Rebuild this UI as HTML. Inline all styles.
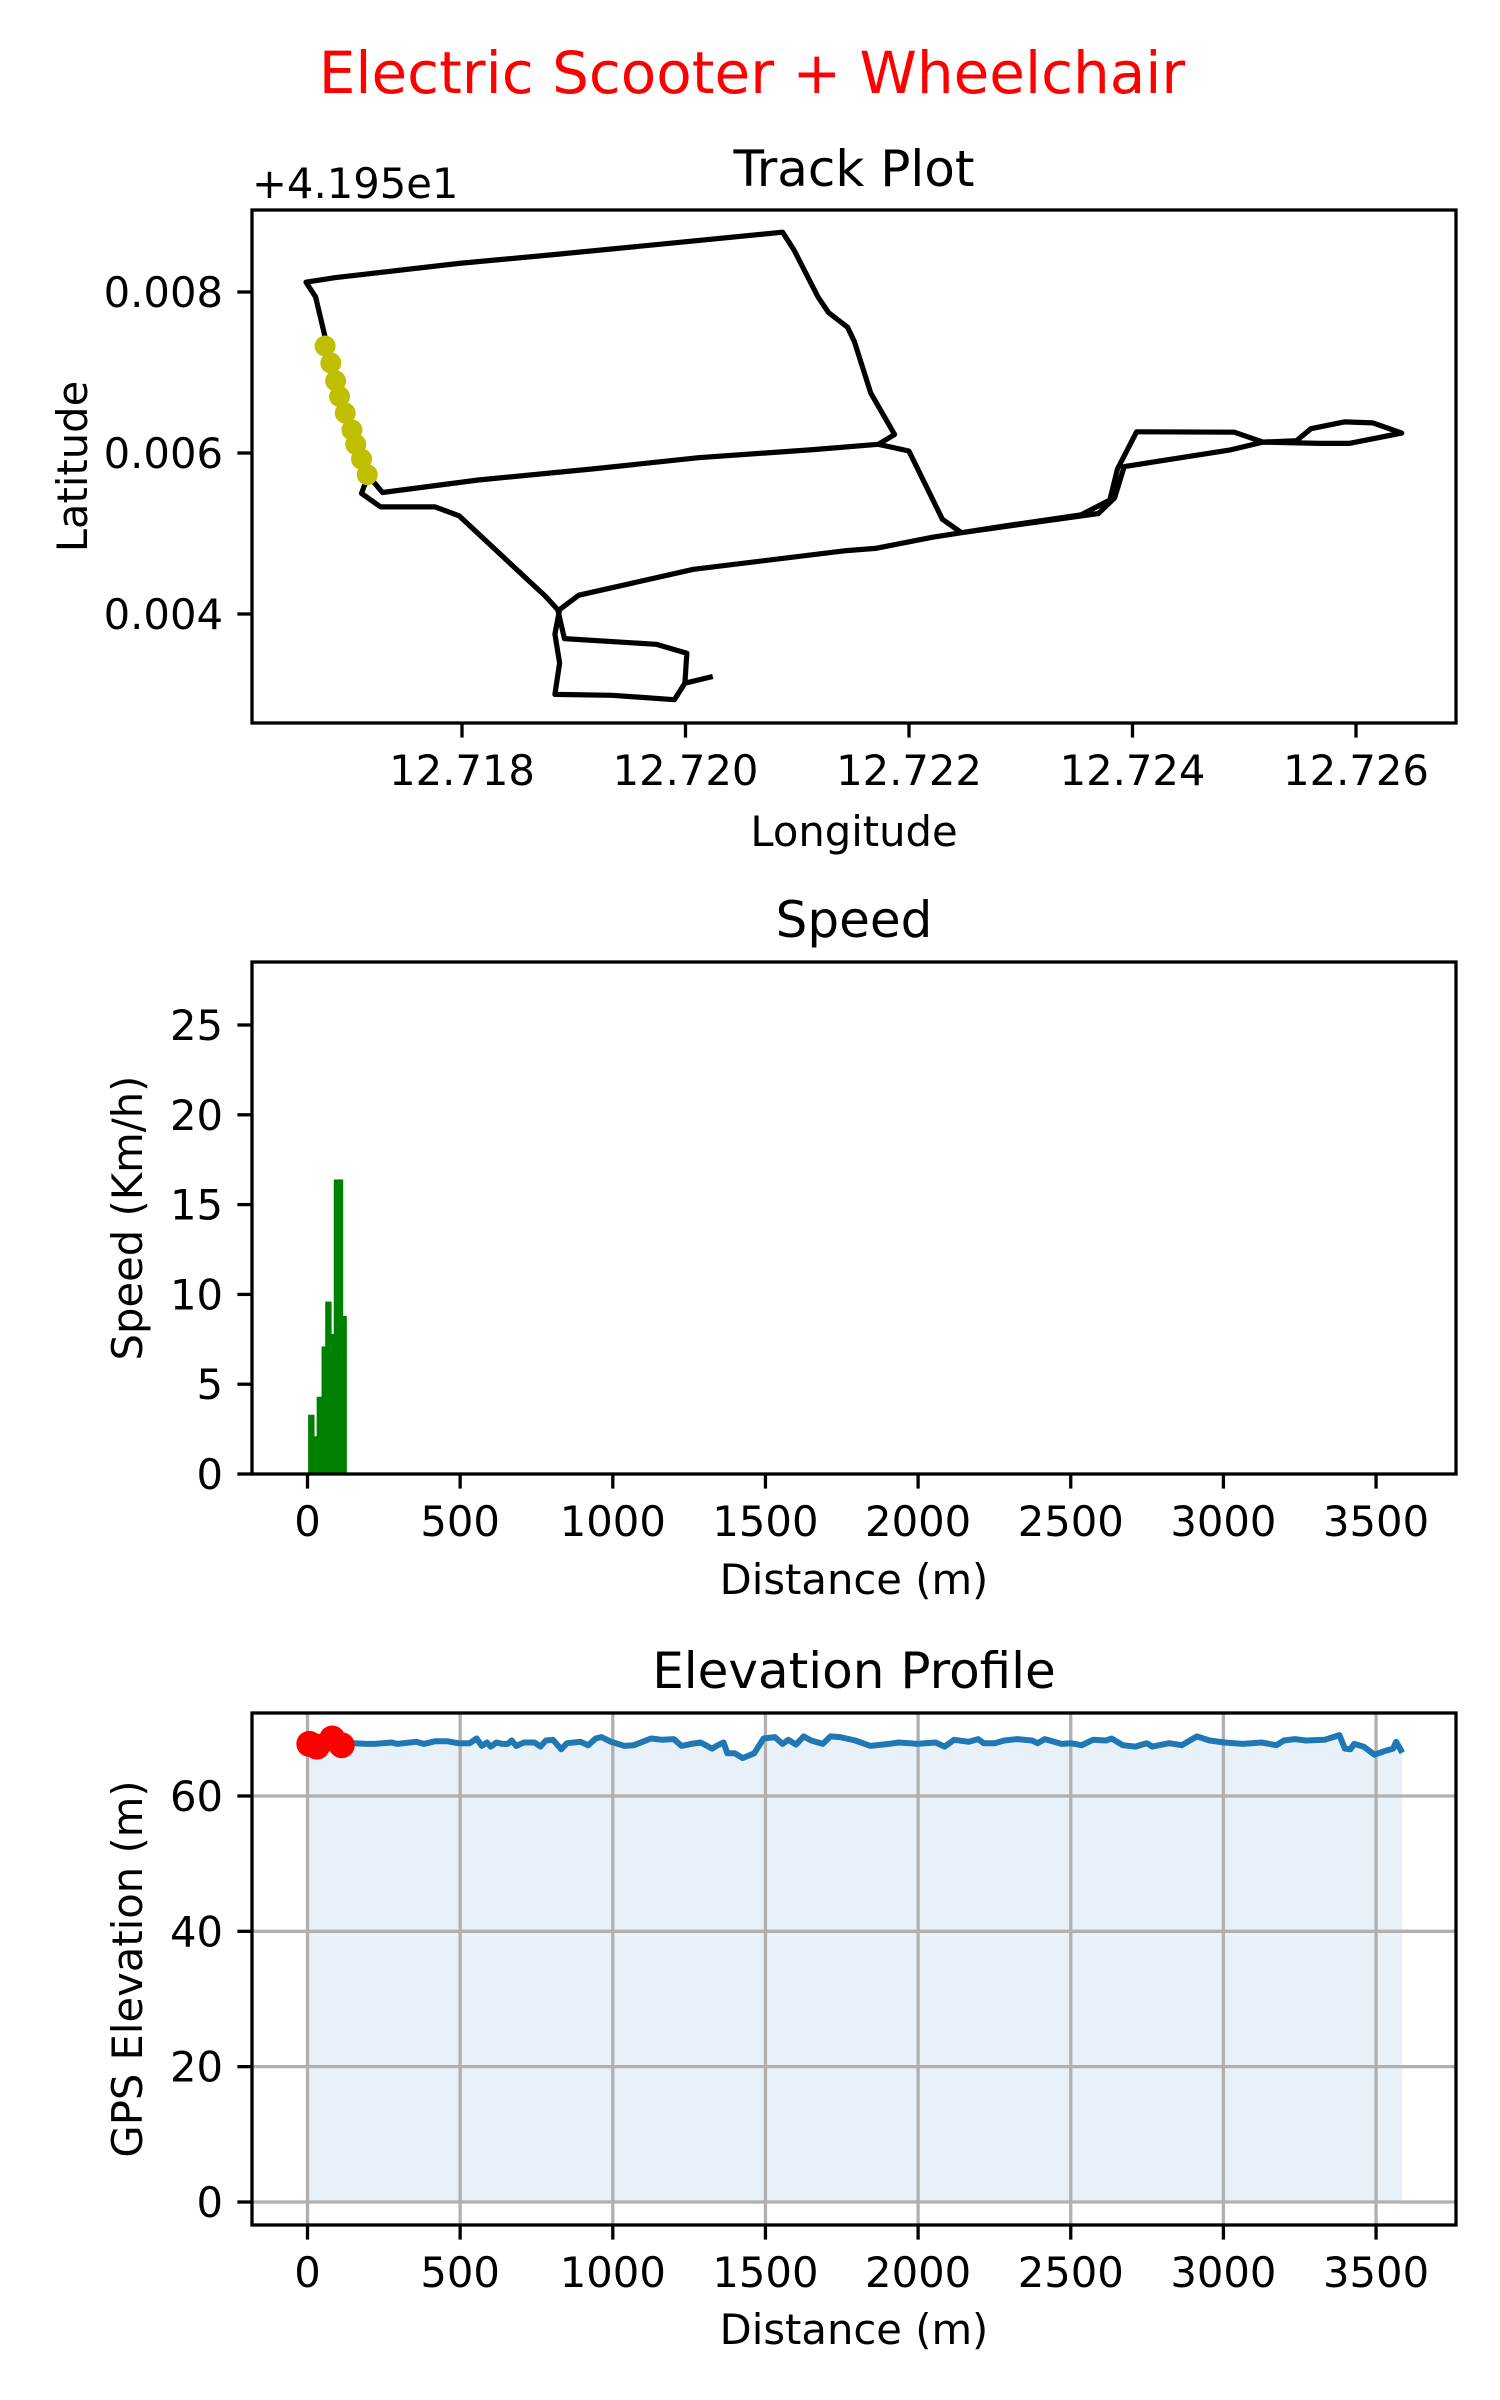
<!DOCTYPE html>
<html><head><meta charset="utf-8"><style>
body{margin:0;background:#fff}
svg{display:block;font-family:"DejaVu Sans","Liberation Sans",sans-serif}
</style></head><body>
<svg id="fig" width="1500" height="2400" viewBox="0 0 1500 2400" xmlns="http://www.w3.org/2000/svg">
<rect width="1500" height="2400" fill="#fff"/>
<text x="752" y="93" font-size="58" fill="#ff0000" text-anchor="middle">Electric Scooter + Wheelchair</text>
<g id="track"></g>
<g id="speed"></g>
<g id="elev"></g>
</svg>
<script>
// ---- Track data (lat offset from 41.95) ----
const trackLon = [12.716775,12.717161,12.717289,12.718146,12.719173,12.720115,12.721143,12.721725,12.721871,12.721657,12.721511,12.721451,12.721280,12.721186,12.720971,12.720869,12.719858,12.718831,12.717974,12.716861,12.716604,12.716690,12.716775,null,
12.717161,12.717101,12.717272,12.717760,12.717974,12.718531,12.718745,12.718856,12.718916,12.719738,12.720012,12.719995,12.719901,12.719344,12.718831,12.718873,12.718831,12.718873,12.719045,12.720072,12.721442,12.721699,12.722213,12.722770,12.723540,12.723797,12.723866,12.724037,12.724911,12.725168,12.725467,12.725596,12.725895,12.726152,12.726409,12.725938,12.725681,12.725168,12.724868,12.723926,12.723840,12.723695,12.722470,12.722299,12.721999,12.721725,null,
12.719995,12.720244];
const trackLat = [0.007329,0.005720,0.005509,0.005664,0.005803,0.005942,0.006042,0.006108,0.006230,0.006746,0.007384,0.007562,0.007745,0.007939,0.008522,0.008743,0.008605,0.008466,0.008355,0.008178,0.008122,0.007939,0.007440,null,
0.005720,0.005498,0.005331,0.005331,0.005220,0.004499,0.004222,0.004055,0.003695,0.003623,0.003512,0.003140,0.002935,0.002990,0.003001,0.003390,0.003750,0.004055,0.004233,0.004555,0.004788,0.004815,0.004954,0.005076,0.005232,0.005415,0.005803,0.006263,0.006258,0.006136,0.006153,0.006302,0.006386,0.006374,0.006247,0.006119,0.006119,0.006136,0.006036,0.005831,0.005442,0.005248,0.005010,0.005176,0.006025,0.006108,null,
0.003140,0.003223];
const markLon = [12.716775,12.716826,12.716869,12.716904,12.716955,12.717015,12.717049,12.717101,12.717152];
const markLat = [0.007329,0.007118,0.006896,0.006702,0.006497,0.006286,0.006108,0.005925,0.005731];
const lonTicks = ["12.718","12.720","12.722","12.724","12.726"];
const latTicks = ["0.004","0.006","0.008"];
// ---- Speed data ----
const speedEdges = [2,21,30,46,58,77,86,115,127];
const speedVals = [3.3,2.1,4.3,7.1,9.6,7.8,16.4,8.8];
const speedTicks = [0,5,10,15,20,25];
const distTicks = [0,500,1000,1500,2000,2500,3000,3500];
// ---- Elevation data ----
const elevDist = [6,31,81,112,150,194,219,275,294,356,381,419,456,494,531,554,571,588,600,619,638,656,669,684,709,744,763,781,804,831,850,894,919,944,963,994,1038,1069,1125,1163,1200,1225,1256,1288,1313,1325,1344,1363,1375,1400,1425,1463,1494,1531,1556,1575,1600,1625,1650,1688,1713,1744,1794,1844,1904,1936,1972,1996,2057,2087,2118,2166,2197,2215,2251,2282,2324,2373,2391,2415,2445,2470,2500,2536,2573,2615,2634,2670,2712,2749,2767,2822,2864,2913,2955,3004,3064,3125,3174,3198,3234,3271,3331,3380,3398,3416,3428,3459,3495,3526,3556,3566,3586];
const elevVals = [67.7,67.3,68.5,67.5,67.8,67.7,67.7,67.9,67.7,68.0,67.7,68.1,68.1,67.8,67.8,68.5,67.4,67.9,67.3,67.9,67.7,67.7,68.2,67.4,67.9,67.9,67.3,68.2,68.3,66.9,67.8,68.0,67.5,68.5,68.7,68.0,67.4,67.5,68.5,68.3,68.4,67.4,67.7,67.9,67.3,67.0,67.5,67.9,66.3,66.3,65.6,66.3,68.5,68.7,67.7,68.3,67.6,68.8,68.2,67.7,68.8,68.7,68.2,67.4,67.7,67.9,67.8,67.7,67.9,67.3,68.3,68.0,68.4,67.8,67.8,68.2,68.4,68.2,67.8,68.4,68.0,67.7,67.8,67.5,68.3,68.2,68.5,67.5,67.3,67.8,67.3,67.8,67.5,68.8,68.2,67.9,67.7,67.9,67.5,68.2,68.4,68.2,68.3,69.0,67.0,66.9,67.7,67.3,66.1,66.6,67.0,68.0,66.4];
const redCount = 4;
const elevTicks = [0,20,40,60];

const NS="http://www.w3.org/2000/svg";
function mk(parent,tag,attrs,text){const e=document.createElementNS(NS,tag);for(const k in attrs)e.setAttribute(k,attrs[k]);if(text!==undefined)e.textContent=text;parent.appendChild(e);return e;}
const TF=41.7, SW=3.3, TL=14.6;

function frame(g,L,R,T,B){
  const f=mk(g,'rect',{x:L,y:T,width:R-L,height:B-T,fill:'none',stroke:'#000','stroke-width':SW});
  
  
}
function xtick(g,x,B,label){
  const t=mk(g,'line',{x1:x,x2:x,y1:B,y2:B+TL,stroke:'#000','stroke-width':SW});
  
  
  const l=mk(g,'text',{x:x,y:B+62,'font-size':TF,'text-anchor':'middle'},label);
  
  
}
function ytick(g,y,L,label){
  const t=mk(g,'line',{x1:L-TL,x2:L,y1:y,y2:y,stroke:'#000','stroke-width':SW});
  
  
  const l=mk(g,'text',{x:L-29,y:y+15,'font-size':TF,'text-anchor':'end'},label);
  
  
}
function title(g,x,y,s){
  const t=mk(g,'text',{x:x,y:y,'font-size':50,'text-anchor':'middle'},s);
  
  
}
function xlabel(g,x,y,s){
  const t=mk(g,'text',{x:x,y:y,'font-size':TF,'text-anchor':'middle'},s);
  
  
}
function ylabel(g,x,y,s){
  const t=mk(g,'text',{x:x,y:y,'font-size':TF,'text-anchor':'middle',transform:`rotate(-90 ${x} ${y})`},s);
  
  
}

// ===== Track plot =====
(function(){
  const g=document.getElementById('track');
  const L=252,R=1456,T=210,B=723;
  const X=v=>462+(v-12.718)*223.5/0.002;
  const Y=v=>292-(v-0.008)*161/0.002;
  let d='',pen=false;
  for(let i=0;i<trackLon.length;i++){
    if(trackLon[i]===null){pen=false;continue;}
    d+=(pen?'L':'M')+X(trackLon[i]).toFixed(1)+' '+Y(trackLat[i]).toFixed(1)+' ';pen=true;
  }
  const p=mk(g,'path',{d:d,fill:'none',stroke:'#000','stroke-width':5.2,'stroke-linejoin':'round'});
  
  
  for(let i=0;i<markLon.length;i++){
    const c=mk(g,'circle',{cx:X(markLon[i]),cy:Y(markLat[i]),r:10.5,fill:'#bfbf00'});
    
    
  }
  frame(g,L,R,T,B);
  lonTicks.forEach(s=>xtick(g,X(parseFloat(s)),B,s));
  latTicks.forEach(s=>ytick(g,Y(parseFloat(s)),L,s));
  title(g,(L+R)/2,186,'Track Plot');
  const o=mk(g,'text',{x:252,y:198,'font-size':TF},'+4.195e1');
  
  
  xlabel(g,(L+R)/2,846,'Longitude');
  ylabel(g,87,(T+B)/2,'Latitude');
})();

// ===== Speed =====
(function(){
  const g=document.getElementById('speed');
  const L=252,R=1456,T=962,B=1474;
  const X=v=>307.5+v*0.3053;
  const Y=v=>B-v*17.96;
  for(let i=0;i<speedVals.length;i++){
    const x0=X(speedEdges[i]),x1=X(speedEdges[i+1]);
    const r=mk(g,'rect',{x:x0,y:Y(speedVals[i]),width:x1-x0+0.6,height:B-Y(speedVals[i]),fill:'#008000'});
    
    
  }
  frame(g,L,R,T,B);
  distTicks.forEach(v=>xtick(g,X(v),B,String(v)));
  speedTicks.forEach(v=>ytick(g,Y(v),L,String(v)));
  title(g,(L+R)/2,937,'Speed');
  xlabel(g,(L+R)/2,1594,'Distance (m)');
  ylabel(g,142,(T+B)/2,'Speed (Km/h)');
})();

// ===== Elevation =====
(function(){
  const g=document.getElementById('elev');
  const L=252,R=1456,T=1713,B=2225;
  const X=v=>307.5+v*0.3053;
  const Y=v=>2202-v*6.767;
  let f='M'+X(0)+' '+Y(0)+' L'+X(0)+' '+Y(elevVals[0]).toFixed(1)+' ';
  for(let i=0;i<elevDist.length;i++) f+='L'+X(elevDist[i]).toFixed(1)+' '+Y(elevVals[i]).toFixed(1)+' ';
  f+='L'+X(elevDist[elevDist.length-1]).toFixed(1)+' '+Y(0)+' Z';
  const fa=mk(g,'path',{d:f,fill:'#e8f0f8'});
  
  
  distTicks.forEach(v=>{const l=mk(g,'line',{x1:X(v),x2:X(v),y1:T,y2:B,stroke:'#b0b0b0','stroke-width':3.3});
    
    });
  elevTicks.forEach(v=>{const l=mk(g,'line',{x1:L,x2:R,y1:Y(v),y2:Y(v),stroke:'#b0b0b0','stroke-width':3.3});
    
    });
  let d='';
  for(let i=0;i<elevDist.length;i++) d+=(i?'L':'M')+X(elevDist[i]).toFixed(1)+' '+Y(elevVals[i]).toFixed(1)+' ';
  const ln=mk(g,'path',{d:d,fill:'none',stroke:'#1f77b4','stroke-width':6,'stroke-linejoin':'round'});
  
  
  for(let i=0;i<redCount;i++){
    const c=mk(g,'circle',{cx:X(elevDist[i]),cy:Y(elevVals[i]),r:13,fill:'#ff0000'});
    
    
  }
  frame(g,L,R,T,B);
  distTicks.forEach(v=>xtick(g,X(v),B,String(v)));
  elevTicks.forEach(v=>ytick(g,Y(v),L,String(v)));
  title(g,(L+R)/2,1688,'Elevation Profile');
  xlabel(g,(L+R)/2,2344,'Distance (m)');
  ylabel(g,142,(T+B)/2,'GPS Elevation (m)');
})();
</script>
</body></html>
